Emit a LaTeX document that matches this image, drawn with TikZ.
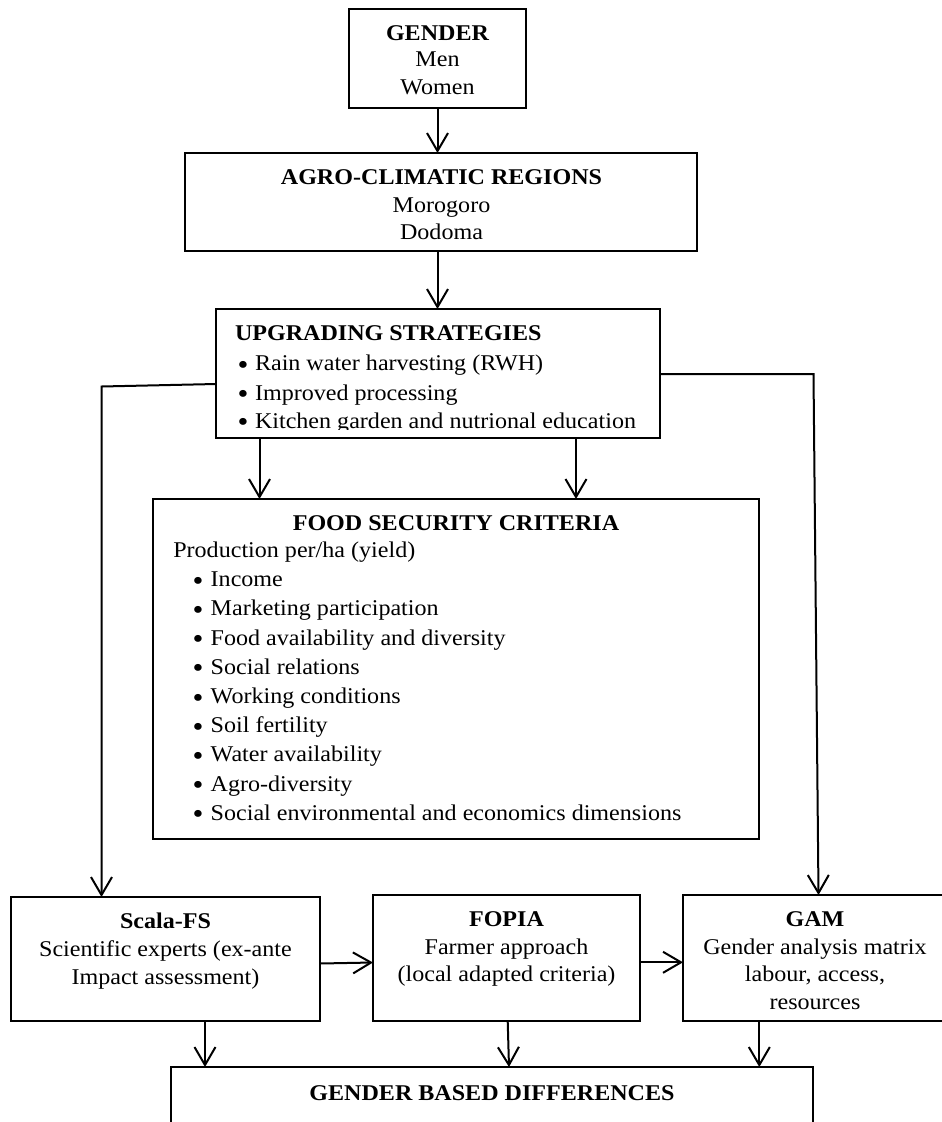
\documentclass[tikz,border=0pt]{standalone}
\usepackage{fontspec}
\setmainfont{Liberation Serif}[FakeStretch=1.07]
\usetikzlibrary{arrows.meta}
\newcommand{\blt}{\raisebox{-3.5pt}{\fontsize{29}{29}\selectfont\textbullet}}
\begin{document}
\begin{tikzpicture}[x=1pt,y=-1pt,
  box/.style={draw, line width=1.6pt, rectangle, inner sep=0pt, outer sep=0pt},
  txt/.style={inner sep=0pt, outer sep=0pt, anchor=base, font=\fontsize{22.5}{27}\selectfont},
  ttl/.style={txt, font=\fontsize{22.5}{27}\selectfont\bfseries},
  arr/.style={line width=2pt, -{Straight Barb[length=18pt,width=21pt,line width=2pt]}}]
\clip (0,0) rectangle (942,1122);
\fill[white] (0,0) rectangle (942,1122);

% boxes
\node[box, minimum width=177pt, minimum height=99pt] (gender) at (437.5,58.5) {};
\node[box, minimum width=512pt, minimum height=98pt] (agro) at (441,202) {};
\node[box, minimum width=444pt, minimum height=129pt] (upg) at (438,373.5) {};
\node[box, minimum width=606pt, minimum height=340pt] (food) at (456,669) {};
\node[box, minimum width=309pt, minimum height=124pt] (scala) at (165.5,959) {};
\node[box, minimum width=267pt, minimum height=126pt] (fopia) at (506.5,958) {};
\node[box, minimum width=264pt, minimum height=126pt] (gam) at (815,958) {};
\node[box, minimum width=642pt, minimum height=73pt] (gbd) at (492,1103.5) {};

% GENDER
\node[ttl] (g1) at (437.5,40.7) {GENDER};
\node[txt] (g2) at (437.5,66.7) {Men};
\node[txt] (g3) at (437.5,94.3) {Women};

% AGRO
\node[ttl] (a1) at (441.5,184.3) {AGRO-CLIMATIC REGIONS};
\node[txt] (a2) at (441.5,212.3) {Morogoro};
\node[txt] (a3) at (441.5,239.3) {Dodoma};

% UPGRADING
\node[ttl, anchor=base west] (u0) at (235,340.7) {UPGRADING STRATEGIES};
\node[txt] (ub1) at (243,370.7) {\blt};
\node[txt, anchor=base west] (ut1) at (255,370.7) {Rain water harvesting (RWH)};
\node[txt] (ub2) at (243,400) {\blt};
\node[txt, anchor=base west] (ut2) at (255,400) {Improved processing};
\begin{scope}
\clip (216,380) rectangle (660,429);
\node[txt] (ub3) at (243,428.3) {\blt};
\node[txt, anchor=base west] (ut3) at (255,428.3) {Kitchen garden and nutrional education};
\end{scope}

% FOOD SECURITY
\node[ttl] (f0) at (456,530) {FOOD SECURITY CRITERIA};
\node[txt, anchor=base west] (fp) at (173.3,557.3) {Production per/ha (yield)};
\foreach \t [count=\k from 0] in {Income, Marketing participation, Food availability and diversity, Social relations, Working conditions, Soil fertility, Water availability, Agro-diversity, Social environmental and economics dimensions}{
  \node[txt] (fb\k) at ({198},{586.7+29.2*\k}) {\blt};
  \node[txt, anchor=base west] (ft\k) at ({210.7},{586.7+29.2*\k}) {\t};
}

% Scala-FS
\node[ttl] (s1) at (165.5,928.3) {Scala-FS};
\node[txt] (s2) at (165.5,956) {Scientific experts (ex-ante};
\node[txt] (s3) at (165.5,984) {Impact assessment)};

% FOPIA
\node[ttl] (p1) at (506.5,926.7) {FOPIA};
\node[txt] (p2) at (506.5,954) {Farmer approach};
\node[txt] (p3) at (506.5,981.7) {(local adapted criteria)};

% GAM
\node[ttl] (m1) at (815,926.7) {GAM};
\node[txt] (m2) at (815,954) {Gender analysis matrix};
\node[txt] (m3) at (815,981.7) {labour, access,};
\node[txt] (m4) at (815,1009) {resources};

% GBD
\node[ttl] (d1) at (492,1100.7) {GENDER BASED DIFFERENCES};

% connectors
\coordinate (lc) at (101.5,386.5);
\coordinate (rc) at (813.5,374);
\draw[arr] (gender.south) -- (gender.south |- agro.north);
\draw[arr] (agro.south -| gender.south) -- (gender.south |- upg.north);
\draw[arr] (upg.west |- 0,384) -- (lc) -- (lc |- scala.north);
\draw[arr] (upg.east |- 0,374) -- (rc) -- (818.5,0 |- gam.north);
\draw[arr] (259.5,0 |- upg.south) -- (259.5,0 |- food.north);
\draw[arr] (576,0 |- upg.south) -- (576,0 |- food.north);
\draw[arr] (scala.east |- 0,963.5) -- (fopia.west |- 0,962.5);
\draw[arr] (fopia.east |- 0,962.3) -- (gam.west |- 0,962.3);
\draw[arr] (205,0 |- scala.south) -- (205,0 |- gbd.north);
\draw[arr] (507.7,0 |- fopia.south) -- (509,0 |- gbd.north);
\draw[arr] (759.3,0 |- gam.south) -- (759.3,0 |- gbd.north);
\end{tikzpicture}
\end{document}
